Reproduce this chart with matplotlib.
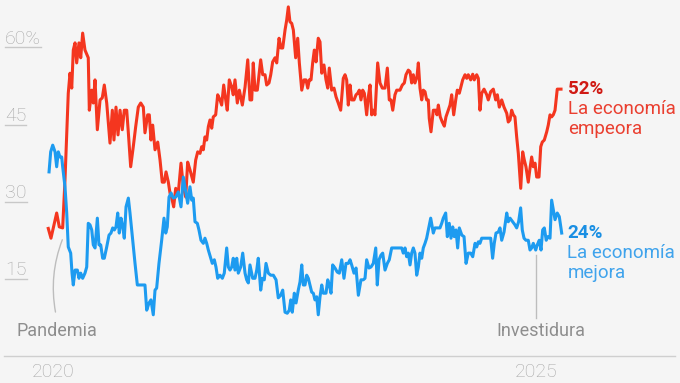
import matplotlib
matplotlib.use('Agg')
import matplotlib.pyplot as plt

# --- data (decimal year, % of respondents) ---
red_t = [2019.951, 2019.979, 2020.038, 2020.065, 2020.100, 2020.124, 2020.158, 2020.176, 2020.194, 2020.210,
         2020.228, 2020.245, 2020.269, 2020.287, 2020.307, 2020.331, 2020.365, 2020.376, 2020.401, 2020.417,
         2020.435, 2020.459, 2020.487, 2020.510, 2020.531, 2020.556, 2020.590, 2020.614, 2020.631, 2020.652,
         2020.673, 2020.694, 2020.717, 2020.738, 2020.763, 2020.780, 2020.804, 2020.831, 2020.856, 2020.883,
         2020.908, 2020.935, 2020.952, 2020.980, 2020.997, 2021.014, 2021.032, 2021.056, 2021.084, 2021.108,
         2021.131, 2021.152, 2021.170, 2021.194, 2021.211, 2021.229, 2021.249, 2021.270, 2021.297, 2021.325,
         2021.349, 2021.374, 2021.394, 2021.418, 2021.452, 2021.477, 2021.498, 2021.522, 2021.539, 2021.556,
         2021.573, 2021.591, 2021.608, 2021.625, 2021.643, 2021.659, 2021.684, 2021.705, 2021.729, 2021.746,
         2021.767, 2021.788, 2021.804, 2021.825, 2021.850, 2021.866, 2021.884, 2021.908, 2021.929, 2021.960,
         2021.988, 2022.016, 2022.039, 2022.057, 2022.073, 2022.091, 2022.115, 2022.150, 2022.171, 2022.195,
         2022.212, 2022.236, 2022.254, 2022.274, 2022.298, 2022.316, 2022.340, 2022.360, 2022.378, 2022.402,
         2022.419, 2022.436, 2022.453, 2022.471, 2022.488, 2022.512, 2022.533, 2022.550, 2022.575, 2022.598,
         2022.619, 2022.637, 2022.653, 2022.671, 2022.688, 2022.705, 2022.723, 2022.746, 2022.764, 2022.782,
         2022.805, 2022.826, 2022.844, 2022.860, 2022.885, 2022.909, 2022.930, 2022.953, 2022.978, 2023.005,
         2023.023, 2023.040, 2023.057, 2023.075, 2023.092, 2023.116, 2023.137, 2023.154, 2023.171, 2023.188,
         2023.206, 2023.223, 2023.247, 2023.264, 2023.282, 2023.299, 2023.316, 2023.333, 2023.361, 2023.385,
         2023.409, 2023.437, 2023.461, 2023.481, 2023.499, 2023.517, 2023.540, 2023.558, 2023.592, 2023.616,
         2023.637, 2023.654, 2023.678, 2023.696, 2023.713, 2023.730, 2023.747, 2023.768, 2023.782, 2023.799,
         2023.817, 2023.833, 2023.851, 2023.868, 2023.885, 2023.895, 2023.913, 2023.937, 2023.962, 2023.975,
         2023.989, 2024.009, 2024.030, 2024.051, 2024.068, 2024.092, 2024.110, 2024.127, 2024.148, 2024.169,
         2024.185, 2024.206, 2024.241, 2024.265, 2024.283, 2024.299, 2024.324, 2024.345, 2024.361, 2024.386,
         2024.403, 2024.420, 2024.438, 2024.462, 2024.490, 2024.506, 2024.531, 2024.558, 2024.583, 2024.600,
         2024.620, 2024.645, 2024.669, 2024.697, 2024.713, 2024.731, 2024.748, 2024.765, 2024.782, 2024.800,
         2024.817, 2024.842, 2024.862, 2024.879, 2024.896, 2024.920, 2024.938, 2024.955, 2024.972, 2024.990,
         2025.007, 2025.031, 2025.049, 2025.065, 2025.086, 2025.111, 2025.127, 2025.145, 2025.162, 2025.179,
         2025.197, 2025.220, 2025.259]
red_v = [24.8, 22.9, 27.8, 25.1, 24.9, 34.2, 51.1, 55.0, 52.1, 59.5,
         60.9, 57.0, 60.9, 58.0, 62.8, 59.5, 58.0, 47.8, 51.7, 49.2,
         53.7, 44.0, 49.8, 50.2, 52.7, 49.2, 41.4, 47.8, 42.0, 48.4,
         43.0, 47.8, 44.0, 47.8, 47.8, 43.4, 36.8, 40.7, 44.6, 48.4,
         49.2, 48.4, 43.4, 46.9, 46.9, 42.0, 44.9, 40.1, 41.6, 38.1,
         33.8, 33.8, 35.8, 33.8, 31.7, 30.7, 29.0, 32.6, 31.7, 37.5,
         32.9, 30.9, 37.7, 36.2, 33.8, 38.1, 39.7, 39.4, 40.7, 40.1,
         42.6, 42.0, 44.6, 45.9, 44.3, 46.5, 46.9, 50.8, 49.8, 48.8,
         52.7, 49.8, 47.8, 53.7, 52.3, 50.8, 53.7, 49.2, 51.7, 48.8,
         52.3, 57.6, 49.8, 49.8, 57.0, 51.7, 51.7, 57.6, 54.7, 54.7,
         52.7, 53.1, 54.7, 57.2, 58.0, 57.0, 61.8, 59.9, 59.9, 63.4,
         65.3, 67.9, 65.0, 64.7, 63.4, 58.0, 61.8, 57.0, 51.7, 53.7,
         53.7, 52.1, 53.7, 53.7, 57.0, 59.5, 57.2, 61.8, 61.1, 55.0,
         56.6, 53.7, 52.1, 56.0, 51.7, 52.1, 50.4, 49.2, 47.8, 54.0,
         54.7, 53.7, 48.8, 52.7, 49.8, 49.8, 50.8, 51.1, 51.7, 49.8,
         51.7, 51.1, 46.9, 50.4, 52.7, 46.9, 47.8, 46.9, 57.0, 53.1,
         52.1, 52.1, 56.0, 49.8, 49.8, 47.8, 50.8, 51.7, 51.7, 52.7,
         53.1, 54.7, 55.6, 55.3, 53.1, 54.7, 53.1, 54.3, 57.0, 52.1,
         49.8, 51.7, 51.4, 49.8, 49.8, 46.2, 43.6, 47.8, 47.8, 46.9,
         48.8, 46.5, 45.5, 44.7, 46.5, 47.8, 48.8, 50.8, 46.9, 49.8,
         51.7, 51.1, 53.7, 54.7, 54.0, 54.7, 53.7, 54.8, 53.7, 54.7,
         54.0, 47.8, 51.1, 51.9, 50.8, 49.8, 51.4, 51.9, 49.8, 50.8,
         48.4, 49.8, 48.4, 47.2, 45.5, 45.9, 47.8, 46.9, 46.5, 42.6,
         39.4, 32.6, 39.7, 38.1, 36.8, 33.8, 36.5, 38.7, 36.8, 37.5,
         34.8, 34.8, 40.7, 41.6, 42.0, 43.6, 44.9, 46.9, 46.5, 46.9,
         47.8, 51.9, 51.9]

blue_t = [2019.959, 2019.976, 2019.997, 2020.021, 2020.038, 2020.055, 2020.072, 2020.090, 2020.100, 2020.124,
          2020.142, 2020.158, 2020.183, 2020.197, 2020.210, 2020.228, 2020.252, 2020.269, 2020.287, 2020.307,
          2020.331, 2020.349, 2020.365, 2020.383, 2020.401, 2020.417, 2020.435, 2020.445, 2020.459, 2020.476,
          2020.494, 2020.514, 2020.531, 2020.556, 2020.580, 2020.600, 2020.618, 2020.635, 2020.652, 2020.670,
          2020.686, 2020.704, 2020.722, 2020.738, 2020.756, 2020.780, 2020.797, 2020.825, 2020.849, 2020.873,
          2020.901, 2020.935, 2020.952, 2020.970, 2020.994, 2021.014, 2021.038, 2021.056, 2021.073, 2021.097,
          2021.125, 2021.149, 2021.167, 2021.183, 2021.201, 2021.222, 2021.245, 2021.270, 2021.297, 2021.325,
          2021.349, 2021.374, 2021.394, 2021.418, 2021.436, 2021.452, 2021.470, 2021.494, 2021.511, 2021.532,
          2021.556, 2021.573, 2021.591, 2021.608, 2021.633, 2021.649, 2021.670, 2021.687, 2021.705, 2021.729,
          2021.753, 2021.773, 2021.798, 2021.815, 2021.832, 2021.850, 2021.866, 2021.884, 2021.902, 2021.918,
          2021.943, 2021.964, 2021.988, 2022.005, 2022.022, 2022.039, 2022.067, 2022.091, 2022.109, 2022.125,
          2022.150, 2022.167, 2022.187, 2022.205, 2022.229, 2022.254, 2022.281, 2022.309, 2022.332, 2022.357,
          2022.378, 2022.402, 2022.425, 2022.446, 2022.461, 2022.477, 2022.498, 2022.516, 2022.539, 2022.557,
          2022.575, 2022.591, 2022.609, 2022.626, 2022.643, 2022.660, 2022.678, 2022.695, 2022.712, 2022.730,
          2022.746, 2022.764, 2022.782, 2022.798, 2022.826, 2022.844, 2022.860, 2022.878, 2022.895, 2022.919,
          2022.943, 2022.964, 2022.989, 2023.012, 2023.033, 2023.057, 2023.075, 2023.092, 2023.116, 2023.137,
          2023.161, 2023.188, 2023.212, 2023.230, 2023.247, 2023.271, 2023.292, 2023.316, 2023.341, 2023.357,
          2023.375, 2023.395, 2023.413, 2023.437, 2023.461, 2023.481, 2023.506, 2023.533, 2023.558, 2023.585,
          2023.610, 2023.626, 2023.644, 2023.661, 2023.678, 2023.696, 2023.713, 2023.730, 2023.747, 2023.765,
          2023.782, 2023.799, 2023.817, 2023.833, 2023.851, 2023.868, 2023.885, 2023.910, 2023.937, 2023.954,
          2023.972, 2024.006, 2024.024, 2024.040, 2024.065, 2024.082, 2024.102, 2024.120, 2024.138, 2024.154,
          2024.172, 2024.189, 2024.206, 2024.232, 2024.255, 2024.276, 2024.299, 2024.324, 2024.345, 2024.369,
          2024.386, 2024.403, 2024.420, 2024.438, 2024.462, 2024.490, 2024.531, 2024.551, 2024.568, 2024.586,
          2024.610, 2024.627, 2024.645, 2024.669, 2024.697, 2024.713, 2024.731, 2024.759, 2024.782, 2024.800,
          2024.820, 2024.841, 2024.858, 2024.876, 2024.896, 2024.920, 2024.938, 2024.955, 2024.972, 2024.997,
          2025.013, 2025.034, 2025.052, 2025.069, 2025.086, 2025.106, 2025.121, 2025.145, 2025.162, 2025.179,
          2025.197, 2025.220, 2025.241, 2025.266]
blue_v = [35.8, 39.7, 41.0, 39.7, 36.8, 39.7, 38.7, 38.7, 36.8, 32.9,
          27.8, 21.2, 20.0, 16.1, 13.8, 16.7, 16.7, 15.1, 16.1, 15.1,
          16.1, 17.3, 25.8, 25.5, 24.5, 21.6, 21.0, 23.5, 26.8, 21.6,
          21.6, 19.0, 19.0, 21.2, 23.5, 23.9, 24.9, 24.5, 25.1, 27.8,
          23.9, 26.8, 25.1, 22.9, 29.0, 30.7, 27.8, 22.5, 18.0, 13.8,
          13.8, 13.8, 13.8, 8.9, 10.3, 10.9, 8.0, 12.8, 13.2, 18.0,
          22.5, 26.8, 23.9, 25.1, 30.9, 31.7, 30.7, 30.9, 31.9, 29.0,
          34.8, 31.9, 29.7, 32.9, 30.3, 30.7, 26.1, 25.8, 24.5, 22.5,
          21.9, 22.9, 21.9, 20.6, 19.0, 18.0, 18.7, 17.3, 15.1, 15.7,
          15.1, 16.1, 21.0, 17.3, 16.7, 17.3, 19.0, 16.7, 19.0, 16.1,
          17.3, 20.0, 16.1, 14.8, 14.2, 17.7, 15.1, 15.1, 16.7, 19.0,
          12.8, 15.1, 14.8, 18.0, 16.1, 15.7, 15.7, 14.8, 11.3, 11.8,
          12.8, 8.5, 8.3, 8.9, 10.9, 8.5, 12.2, 10.3, 12.8, 14.4,
          17.7, 13.8, 13.8, 15.7, 15.1, 13.8, 12.4, 12.2, 10.9, 11.5,
          8.0, 11.5, 13.8, 12.2, 12.2, 14.8, 13.8, 12.2, 17.7, 17.1,
          16.3, 16.1, 18.7, 15.1, 18.0, 18.0, 18.7, 17.7, 16.1, 17.1,
          11.8, 14.8, 14.8, 15.1, 18.7, 17.1, 17.3, 18.0, 21.0, 13.8,
          18.7, 19.6, 20.0, 16.7, 18.0, 18.7, 21.0, 21.0, 21.0, 21.0,
          21.0, 20.0, 21.0, 19.3, 20.0, 17.7, 20.0, 21.0, 20.0, 15.7,
          17.3, 20.0, 19.0, 21.0, 21.9, 22.9, 24.5, 26.8, 23.9, 24.9,
          24.9, 24.9, 25.8, 26.8, 27.8, 23.2, 25.8, 22.9, 25.1, 23.2,
          24.5, 21.0, 24.9, 23.5, 23.2, 18.0, 20.0, 20.0, 19.3, 21.9,
          21.2, 22.2, 21.9, 22.9, 22.9, 22.9, 22.9, 19.0, 21.9, 23.9,
          24.1, 24.9, 22.5, 24.1, 27.8, 26.1, 26.8, 26.1, 25.5, 24.9,
          26.1, 28.8, 24.5, 22.9, 22.5, 22.5, 20.6, 21.0, 21.9, 20.6,
          21.6, 22.5, 20.6, 24.5, 24.9, 22.5, 23.2, 22.9, 30.3, 28.4,
          26.5, 27.8, 27.1, 23.9]

y_ticks = [60, 45, 30, 15]
y_tick_labels = ['60%', '45', '30', '15']
x_ticks = [2020, 2025]
events = {'Pandemia': 2020.04, 'Investidura': 2025.05}

RED = '#f4361f'
BLUE = '#1d9bf0'
GREY = '#a8a8a8'
BG = '#f5f5f5'


def main():
    plt.rcParams['font.family'] = ['Roboto', 'DejaVu Sans']
    fig = plt.figure(figsize=(6.8, 3.83), dpi=100, facecolor=BG)
    ax = fig.add_axes([0, 0, 1, 1])
    ax.set_facecolor(BG)
    ax.axis('off')
    ax.set_xlim(2019.4513, 2026.4907)
    ax.set_ylim(-5.27, 69.24)

    ax.plot(red_t, red_v, color=RED, lw=2.2, zorder=3)
    ax.plot(blue_t, blue_v, color=BLUE, lw=2.2, zorder=3)

    # baseline
    ax.axhline(0, xmin=0.006, xmax=0.993, color='#cfcfcf', lw=1)

    # y labels with short underline
    tr = ax.get_yaxis_transform()
    labels = []
    for v, lab in zip(y_ticks, y_tick_labels):
        t = ax.annotate(lab, xy=(0.0074, v), xycoords=tr, xytext=(0, 2.5),
                        textcoords='offset points', ha='left', va='baseline',
                        fontsize=14, color=GREY, fontweight='light')
        labels.append((t, v))
    fig.canvas.draw()
    inv = ax.transAxes.inverted()
    for t, v in labels:
        bb = t.get_window_extent()
        x0 = inv.transform((bb.x0, 0))[0]
        x1 = inv.transform((bb.x1, 0))[0]
        ax.plot([x0, x1], [v, v], transform=tr, color='#c8c8c8', lw=1)

    # x labels
    for yr in x_ticks:
        ax.annotate(str(yr), xy=(yr, 0), xytext=(0, -5), textcoords='offset points',
                    ha='center', va='top', fontsize=14, color=GREY, fontweight='light')

    # event annotations
    ax.annotate('', xy=(2020.107, 23.1), xytext=(2020.031, 8.0),
                arrowprops=dict(arrowstyle='-', color='#bdbdbd', lw=1,
                                connectionstyle='arc3,rad=-0.15'))
    ax.annotate('Pandemia', xy=(events['Pandemia'], 4.8), ha='center', va='center',
                fontsize=13, color='#8e8e8e')
    ax.plot([2025.0, 2025.0], [19.6, 7.3], color='#bdbdbd', lw=1)
    ax.annotate('Investidura', xy=(events['Investidura'], 4.8), ha='center', va='center',
                fontsize=13, color='#8e8e8e')

    # end labels
    ax.annotate('%d%%' % round(red_v[-1]), xy=(red_t[-1], red_v[-1]), xytext=(5, 0),
                textcoords='offset points', ha='left', va='center',
                fontsize=13.5, fontweight='bold', color='#d01a14')
    ax.annotate('La economía\nempeora', xy=(red_t[-1], red_v[-1]), xytext=(5, -8),
                textcoords='offset points', ha='left', va='top', linespacing=1.15,
                fontsize=13.5, color='#ea3f30')
    ax.annotate('%d%%' % round(blue_v[-1]), xy=(blue_t[-1], blue_v[-1]), xytext=(4, 0),
                textcoords='offset points', ha='left', va='center',
                fontsize=13.5, fontweight='bold', color='#1a8fe3')
    ax.annotate('La economía\nmejora', xy=(blue_t[-1], blue_v[-1]), xytext=(4, -8),
                textcoords='offset points', ha='left', va='top', linespacing=1.15,
                fontsize=13.5, color='#3fa3ec')

    fig.savefig('out.png', dpi=100, facecolor=BG)


if __name__ == '__main__':
    main()
